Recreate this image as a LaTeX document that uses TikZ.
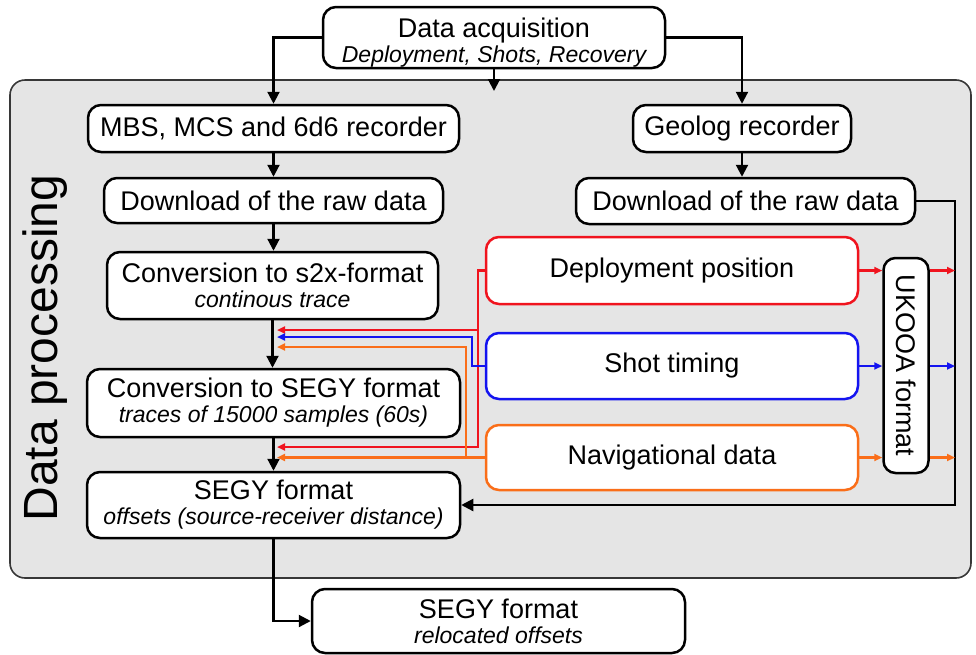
\documentclass[tikz,border=0pt]{standalone}
\usepackage{fontspec}
\setmainfont{Liberation Sans}
\usetikzlibrary{arrows.meta}
\definecolor{cred}{RGB}{240,20,30}
\definecolor{cblue}{RGB}{20,20,240}
\definecolor{corange}{RGB}{250,110,25}
\definecolor{bggray}{RGB}{229,229,229}
\definecolor{bgline}{RGB}{55,55,55}
\tikzset{
  box/.style={draw=black, line width=2.5pt, rounded corners=13pt, fill=white, inner sep=0pt, align=center},
  cbox/.style={box, line width=2.5pt},
  arr/.style={-{Triangle[width=12pt,length=12pt]}, line width=2.2pt, black},
  carr/.style={-{Triangle[width=7pt,length=8pt]}, line width=2.4pt},
  cline/.style={line width=2.4pt},
  big/.style={font=\fontsize{27}{25}\selectfont},
}
\newcommand{\sub}[1]{{\fontsize{23}{25}\selectfont\itshape #1}}
\begin{document}
\begin{tikzpicture}[x=1pt,y=-1pt,big]
\useasboundingbox (0,0) rectangle (976,654);
% background panel
\draw[fill=bggray, draw=bgline, line width=1.6pt, rounded corners=15pt] (10,80) rectangle (971,578);
\node[rotate=90, font=\fontsize{48}{48}\selectfont] (dp) at (45,348) {Data processing};

% nodes
\node[box, minimum width=342, minimum height=61] (acq) at (494,37.5) {\rule{0pt}{30pt}Data acquisition\\\sub{Deployment, Shots, Recovery}};
\node[box, minimum width=371, minimum height=47] (mbs) at (273.5,128.5) {MBS, MCS and 6d6 recorder};
\node[box, minimum width=339, minimum height=45] (dl1) at (273.5,200.5) {Download of the raw data};
\node[box, minimum width=331, minimum height=67] (s2x) at (272.5,285.5) {Conversion to s2x-format\\\sub{continous trace}};
\node[box, minimum width=373, minimum height=68] (segyc) at (273.5,403) {Conversion to SEGY format\\\sub{traces of 15000 samples (60s)}};
\node[box, minimum width=373, minimum height=66] (off) at (273.5,505) {SEGY format\\\sub{offsets (source-receiver distance)}};
\node[box, minimum width=373, minimum height=64] (final) at (498.5,621) {SEGY format\\\sub{relocated offsets}};
\node[box, minimum width=218, minimum height=47] (geo) at (742,128.5) {Geolog recorder};
\node[box, minimum width=339, minimum height=46] (dl2) at (745.5,201) {Download of the raw data};
\node[cbox, draw=cred, minimum width=372, minimum height=67] (dep) at (672,270.5) {Deployment position};
\node[cbox, draw=cblue, minimum width=372, minimum height=66] (shot) at (672,366) {Shot timing};
\node[cbox, draw=corange, minimum width=372, minimum height=65] (nav) at (672,457.5) {Navigational data};
\node[box, minimum width=45, minimum height=215, rounded corners=12pt] (uk) at (906,365.5) {\rotatebox{-90}{UKOOA format}};

% helper coordinates
\coordinate (gtop) at (494,91);
\coordinate (rx) at (955,0);
\coordinate (tipx) at (277,0);
\coordinate (rA) at (478,330);
\coordinate (rB) at (478,447);
\coordinate (bA) at (472,337);
\coordinate (oA) at (466,347);

% black connectors
\draw[arr] (acq.west) -| (mbs.north);
\draw[arr] (acq.east) -| (geo.north);
\draw[arr] (acq.south) -- (gtop);
\draw[arr] (mbs.south) -- (mbs.south |- dl1.north);
\draw[arr] (dl1.south) -- (dl1.south |- s2x.north);
\draw[arr] (s2x.south) -- (s2x.south |- segyc.north);
\draw[arr] (segyc.south) -- (segyc.south |- off.north);
\draw[arr] (off.south) |- (final.west);
\draw[arr] (geo.south) -- (geo.south |- dl2.north);
\draw[arr] (dl2.east) -- (dl2.east -| rx) |- (off.east);

% coloured feeds to the left column
\draw[cline, cred, -{Triangle[width=7pt,length=8pt]}] (dep.west) -| (rB) -- (tipx |- rB);
\draw[cline, cred, -{Triangle[width=7pt,length=8pt]}] (rA) -- (tipx |- rA);
\draw[cline, cblue, -{Triangle[width=7pt,length=8pt]}] (shot.west) -| (bA) -- (tipx |- bA);
\draw[cline, corange, -{Triangle[width=7pt,length=8pt]}] (nav.west) -- (tipx |- nav.west);
\draw[cline, corange, -{Triangle[width=7pt,length=8pt]}] (oA |- nav.west) -- (oA) -- (tipx |- oA);

% coloured arrows to and from UKOOA
\draw[carr, cred] (dep.east) -- (dep.east -| uk.west);
\draw[carr, cblue] (shot.east) -- (shot.east -| uk.west);
\draw[carr, corange] (nav.east) -- (nav.east -| uk.west);
\draw[carr, cred] (dep.east -| uk.east) -- (dep.east -| rx);
\draw[carr, cblue] (shot.east -| uk.east) -- (shot.east -| rx);
\draw[carr, corange] (nav.east -| uk.east) -- (nav.east -| rx);
\end{tikzpicture}
\end{document}
